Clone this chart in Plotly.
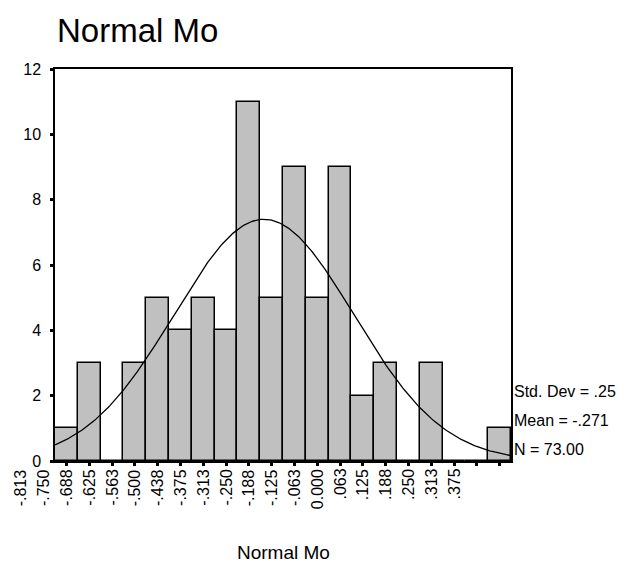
import numpy as np
import plotly.graph_objects as go

# Data
bin_width = 0.0625
first_center = -0.8125
counts = [1, 3, 0, 3, 5, 4, 5, 4, 11, 5, 9, 5, 9, 2, 3, 0, 3, 0, 0, 1]
tick_labels = ["-.813", "-.750", "-.688", "-.625", "-.563", "-.500", "-.438", "-.375",
               "-.313", "-.250", "-.188", "-.125", "-.063", "0.000", ".063", ".125",
               ".188", ".250", ".313", ".375"]
label_offset = -2  # SPSS label placement: first label two bins left of first bar
n_obs = 73
mean_val = -0.271
std_val = 0.246
stats_text = ["Std. Dev = .25", "Mean = -.271", "N = 73.00"]

centers = [first_center + bin_width * i for i in range(len(counts))]
x_lo = centers[0] - bin_width / 2
x_hi = centers[-1] + bin_width / 2

FONT = "Liberation Sans, Arial, sans-serif"

fig = go.Figure()
fig.add_trace(go.Bar(
    x=centers, y=counts, width=[bin_width] * len(counts),
    marker=dict(color="#c0c0c0", line=dict(color="black", width=1.5)),
    hoverinfo="skip", showlegend=False,
))

xs = np.linspace(x_lo, x_hi, 300)
ys = n_obs * bin_width / (std_val * np.sqrt(2 * np.pi)) * np.exp(-0.5 * ((xs - mean_val) / std_val) ** 2)
fig.add_trace(go.Scatter(x=xs, y=ys, mode="lines", line=dict(color="black", width=1.3),
                         hoverinfo="skip", showlegend=False, cliponaxis=True))

annotations = []
for k, lab in enumerate(tick_labels):
    xv = first_center + bin_width * (k + label_offset)
    annotations.append(dict(x=(xv - x_lo) / (x_hi - x_lo), y=0, xref="paper", yref="paper",
                            text=lab, showarrow=False,
                            textangle=-90, yanchor="top", xanchor="center", yshift=-6,
                            font=dict(family=FONT, size=16, color="black")))
stat_y = [391, 420, 449]
for t, py in zip(stats_text, stat_y):
    annotations.append(dict(x=1, y=(461 - py) / 392,
                            xref="paper", yref="paper", text=t, showarrow=False,
                            xanchor="left", yanchor="middle", xshift=1,
                            font=dict(family=FONT, size=16, color="black")))
annotations.append(dict(x=(283 - 55) / 456, y=(461 - 552) / 392, xref="paper", yref="paper",
                        text="Normal Mo", showarrow=False, xanchor="center", yanchor="middle",
                        font=dict(family=FONT, size=19, color="black")))

fig.update_layout(
    width=623, height=562,
    margin=dict(l=55, r=112, t=69, b=101),
    paper_bgcolor="white", plot_bgcolor="white",
    bargap=0,
    title=dict(text="Normal Mo", x=57 / 623, xanchor="left", y=1 - 30 / 562, yanchor="middle",
               font=dict(family=FONT, size=33, color="black")),
    xaxis=dict(range=[x_lo, x_hi], tickvals=centers, ticktext=[""] * len(centers),
               ticks="outside", ticklen=3, tickwidth=3, tickcolor="black",
               showgrid=False, zeroline=False, showline=True, linecolor="black",
               linewidth=1.5, mirror=True),
    yaxis=dict(range=[0, 12], tickvals=[0, 2, 4, 6, 8, 10, 12],
               ticks="outside", ticklen=3, tickwidth=3, tickcolor="black",
               ticklabelstandoff=6,
               tickfont=dict(family=FONT, size=16, color="black"),
               showgrid=False, zeroline=False, showline=True, linecolor="black",
               linewidth=1.5, mirror=True),
    annotations=annotations,
)

fig.write_html("out.html")
